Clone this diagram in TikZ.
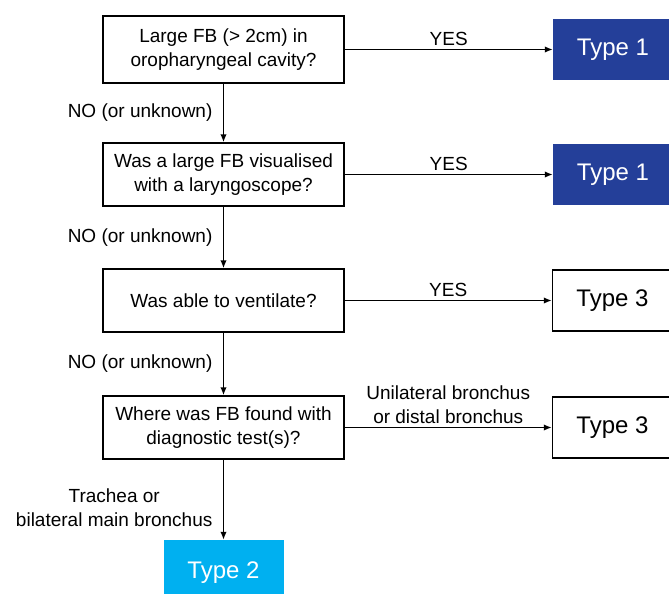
\documentclass[tikz,border=0pt]{standalone}
\usepackage{fontspec}
\setmainfont{Liberation Sans}
\usetikzlibrary{arrows.meta, positioning}

\definecolor{typeone}{RGB}{36,63,153}
\definecolor{typetwo}{RGB}{0,176,240}

\begin{document}
\begin{tikzpicture}[x=1pt, y=1pt,
        question/.style={draw, rectangle, line width=1.5pt, minimum width=241pt, minimum height=63pt, align=center, font=\fontsize{19}{24}\selectfont},
        result/.style={rectangle, minimum width=120pt, minimum height=61pt, font=\fontsize{24}{28}\selectfont},
        label/.style={align=center, font=\fontsize{19}{24}\selectfont},
        arrow/.style={-{Latex[length=8pt, width=6.5pt]}, line width=1.5pt}
    ]
        \useasboundingbox (0,0) rectangle (669,-594);
        \node[question, minimum height=67pt] (q1) at (223.5,-49.5) {Large FB (> 2cm) in\\oropharyngeal cavity?};
        \node[question, below=58.5pt of q1] (q2) {Was a large FB visualised\\with a laryngoscope?};
        \node[question, below=61.5pt of q2] (q3) {Was able to ventilate?};
        \node[question, below=62.5pt of q3] (q4) {Where was FB found with\\diagnostic test(s)?};
        \node[result, fill=typeone, text=white, right=208pt of q1] (t1a) {Type 1};
        \node[result, fill=typeone, text=white, right=208pt of q2] (t1b) {Type 1};
        \node[result, draw, line width=1.5pt, right=207pt of q3] (t3a) {Type 3};
        \node[result, draw, line width=1.5pt, right=207pt of q4] (t3b) {Type 3};
        \node[result, fill=typetwo, text=white, minimum height=66pt, below=80pt of q4] (t2) {Type 2};
        % yes branches
        \draw[arrow] (q1) -- node[label, above] (yes1) {YES} (t1a);
        \draw[arrow] (q2) -- node[label, above] (yes2) {YES} (t1b);
        \draw[arrow] (q3) -- node[label, above] (yes3) {YES} (t3a);
        \draw[arrow] (q4) -- node[label, above] (uni) {Unilateral bronchus\\or distal bronchus} (t3b);
        % no branches
        \draw[arrow] (q1) -- node[label, left=7pt] (no1) {NO (or unknown)} (q2);
        \draw[arrow] (q2) -- node[label, left=7pt] (no2) {NO (or unknown)} (q3);
        \draw[arrow] (q3) -- node[label, left=7pt] (no3) {NO (or unknown)} (q4);
        \draw[arrow] (q4) -- node[label, left=7pt, pos=0.6] (tra) {Trachea or\\bilateral main bronchus} (t2);
    \end{tikzpicture}
\end{document}
